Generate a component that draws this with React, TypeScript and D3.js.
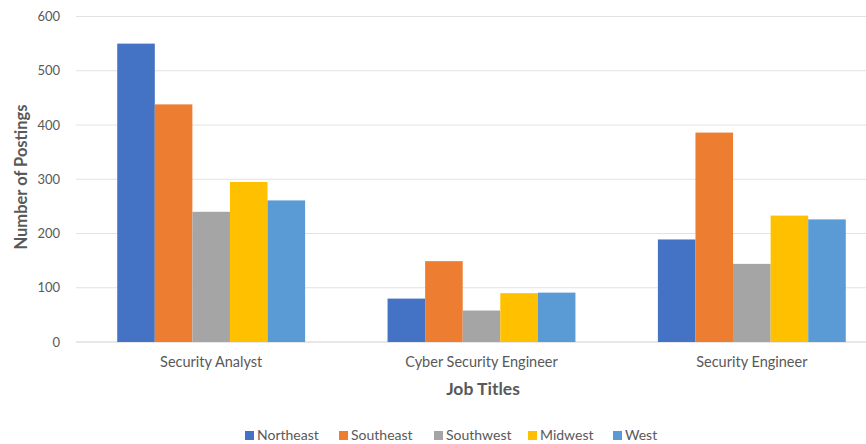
import React from "react";
import * as d3 from "d3";

const categories = ["Security Analyst", "Cyber Security Engineer", "Security Engineer"];
const seriesNames = ["Northeast", "Southeast", "Southwest", "Midwest", "West"];
const northeast = [550, 80, 189];
const southeast = [438, 149, 386];
const southwest = [240, 58, 144];
const midwest = [295, 90, 233];
const west = [261, 91, 226];
const yTicks = [0, 100, 200, 300, 400, 500, 600];
const colors = ["#4472C4", "#ED7D31", "#A5A5A5", "#FFC000", "#5B9BD5"];

const seriesValues = [northeast, southeast, southwest, midwest, west];

export default function App() {
  const W = 866, H = 444;
  const left = 76, right = 887, top = 16.5, bottom = 342;
  const x = d3.scaleBand<string>().domain(categories).range([left, right]).paddingInner(0.305).paddingOuter(0.1525);
  const xi = d3.scaleBand<string>().domain(seriesNames).range([0, x.bandwidth()]);
  const y = d3.scaleLinear().domain([0, 600]).range([bottom, top]);
  const font = "Lato, 'Open Sans', sans-serif";
  const legendX = [245, 339, 434, 528, 613];
  return (
    <svg width={W} height={H} style={{ position: "absolute", left: 0, top: 0, background: "#fff" }} fontFamily={font}>
      {yTicks.map((t) => (
        <g key={t}>
          <line x1={left} x2={W} y1={y(t)} y2={y(t)} stroke={t === 0 ? "#d0d0d0" : "#e2e2e2"} strokeWidth={1} />
          <text x={60} y={y(t)} dy="0.35em" textAnchor="end" fontSize={13} fill="#595959">{t}</text>
        </g>
      ))}
      {categories.map((c, ci) => (
        <g key={c}>
          {seriesNames.map((s, si) => (
            <rect key={s} x={(x(c) as number) + (xi(s) as number)} width={xi.bandwidth()} y={y(seriesValues[si][ci])} height={bottom - y(seriesValues[si][ci])} fill={colors[si]} />
          ))}
          <text x={(x(c) as number) + x.bandwidth() / 2} y={367} textAnchor="middle" fontSize={14.5} fill="#595959">{c}</text>
        </g>
      ))}
      <text x={483} y={395} textAnchor="middle" fontSize={17.5} fontWeight="bold" fill="#595959">Job Titles</text>
      <text transform="translate(27,177) rotate(-90)" textAnchor="middle" fontSize={16.5} fontWeight="bold" fill="#595959">Number of Postings</text>
      {seriesNames.map((s, si) => (
        <g key={s}>
          <rect x={legendX[si]} y={431} width={9} height={9} fill={colors[si]} />
          <text x={legendX[si] + 12} y={435.5} dy="0.35em" fontSize={14} fill="#595959">{s}</text>
        </g>
      ))}
    </svg>
  );
}
